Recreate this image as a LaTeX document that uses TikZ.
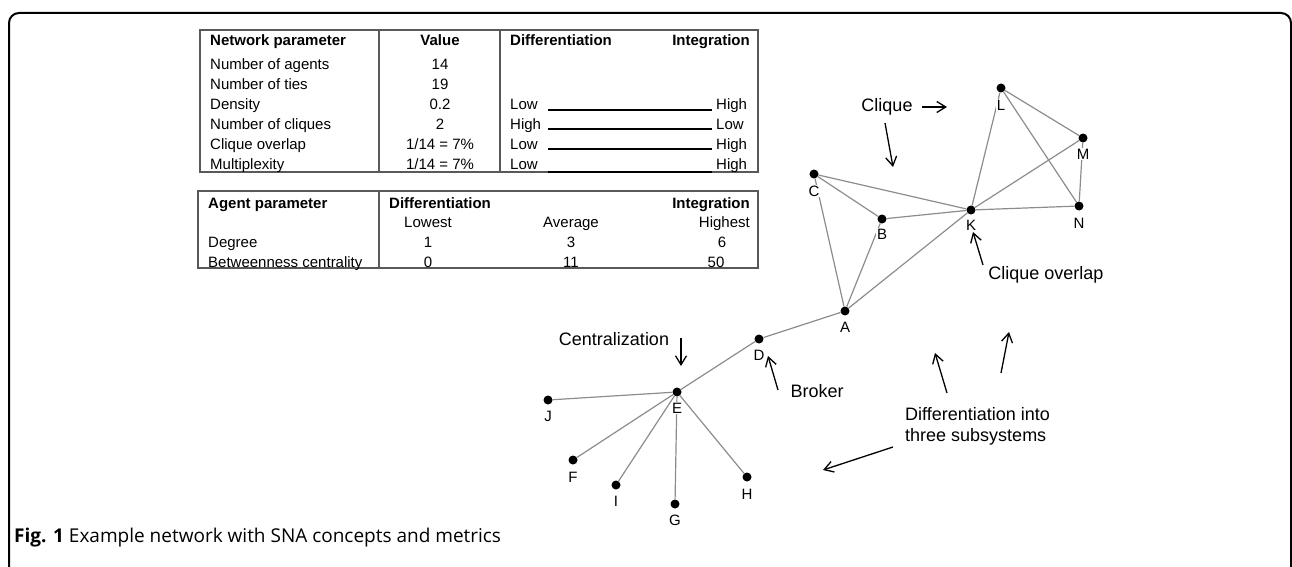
\documentclass[tikz,border=0pt]{standalone}
\usepackage{fontspec}
\setmainfont{Liberation Sans}
\newfontfamily\capfont{Open Sans}
\usetikzlibrary{arrows.meta}
\tikzset{
  tcell/.style={font=\fontsize{15}{18}\selectfont, inner sep=0pt},
  thead/.style={font=\fontsize{15}{18}\selectfont\bfseries, inner sep=0pt},
  annot/.style={font=\fontsize{18}{21}\selectfont, inner sep=0pt},
  vtx/.style={circle, fill=black, inner sep=0pt, minimum size=9pt},
  lbl/.style={font=\fontsize{15}{18}\selectfont, fill=white, inner sep=1pt},
  tie/.style={draw=black!45, line width=1.2pt},
  gridline/.style={draw=black!65, line width=1.2pt},
  pointer/.style={-{Straight Barb[length=9pt,width=11pt]}, line width=1.3pt, black},
  scale line/.style={draw=black, line width=1.2pt},
}
\begin{document}
\begin{tikzpicture}[x=1pt,y=-1pt]
\useasboundingbox (0,0) rectangle (1292,567);
% frame
\draw[line width=2pt, rounded corners=10pt] (9,580) -- (9,13) -- (1291,13) -- (1291,580);

% ---------- table 1 ----------
\draw[gridline] (200,30) rectangle (758,172);
\draw[gridline] (379,30) -- (379,172);
\draw[gridline] (500,30) -- (500,172);
\node[thead, anchor=base west] (n0) at (210,46) {Network parameter};
\node[thead, anchor=base] (v0) at (440,46) {Value};
\node[thead, anchor=base west] (d0) at (510,46) {Differentiation};
\node[thead, anchor=base east] (i0) at (750,46) {Integration};

\node[tcell, anchor=base west] (n1) at (210,70) {Number of agents};
\node[tcell, anchor=base west] (n2) at (210,90) {Number of ties};
\node[tcell, anchor=base west] (n3) at (210,110) {Density};
\node[tcell, anchor=base west] (n4) at (210,129) {Number of cliques};
\node[tcell, anchor=base west] (n5) at (210,149) {Clique overlap};
\node[tcell, anchor=base west] (n6) at (210,169) {Multiplexity};

\node[tcell, anchor=base] (v1) at (440,70) {14};
\node[tcell, anchor=base] (v2) at (440,90) {19};
\node[tcell, anchor=base] (v3) at (440,110) {0.2};
\node[tcell, anchor=base] (v4) at (440,129) {2};
\node[tcell, anchor=base] (v5) at (440,149) {1/14 = 7\%};
\node[tcell, anchor=base] (v6) at (440,169) {1/14 = 7\%};

\node[tcell, anchor=base west] (l3) at (510,110) {Low};
\node[tcell, anchor=base west] (l4) at (510,129) {High};
\node[tcell, anchor=base west] (l5) at (510,149) {Low};
\node[tcell, anchor=base west] (l6) at (510,169) {Low};
\node[tcell, anchor=base west] (r3) at (716,110) {High};
\node[tcell, anchor=base west] (r4) at (716,129) {Low};
\node[tcell, anchor=base west] (r5) at (716,149) {High};
\node[tcell, anchor=base west] (r6) at (716,169) {High};
\coordinate (s3a) at (548,110); \coordinate (s3b) at (712,110);
\coordinate (s4a) at (548,129); \coordinate (s4b) at (712,129);
\coordinate (s5a) at (548,149); \coordinate (s5b) at (712,149);
\coordinate (s6a) at (548,172); \coordinate (s6b) at (712,172);
\draw[scale line] (s3a) -- (s3b);
\draw[scale line] (s4a) -- (s4b);
\draw[scale line] (s5a) -- (s5b);
\draw[scale line, line width=2pt] (s6a) -- (s6b);

% ---------- table 2 ----------
\draw[gridline] (198,191) rectangle (758,268);
\draw[gridline] (379,191) -- (379,268);
\node[thead, anchor=base west] (a0) at (208,208) {Agent parameter};
\node[thead, anchor=base west] (ad0) at (389,208) {Differentiation};
\node[thead, anchor=base east] (ai0) at (750,208) {Integration};
\node[tcell, anchor=base] (lo) at (428,227) {Lowest};
\node[tcell, anchor=base] (av) at (571,227) {Average};
\node[tcell, anchor=base east] (hi) at (750,227) {Highest};
\node[tcell, anchor=base west] (a1) at (208,247) {Degree};
\node[tcell, anchor=base west] (a2) at (208,267) {Betweenness centrality};
\node[tcell, anchor=base] (a1l) at (428,247) {1};
\node[tcell, anchor=base] (a1a) at (571,247) {3};
\node[tcell, anchor=base] (a1h) at (722,247) {6};
\node[tcell, anchor=base] (a2l) at (428,267) {0};
\node[tcell, anchor=base] (a2a) at (571,267) {11};
\node[tcell, anchor=base] (a2h) at (716,267) {50};

% ---------- network ----------
\node[vtx] (A) at (845,311) {};
\node[vtx] (B) at (882,219) {};
\node[vtx] (C) at (814,174) {};
\node[vtx] (D) at (759,339) {};
\node[vtx] (E) at (677,392) {};
\node[vtx] (F) at (573,460) {};
\node[vtx] (G) at (675,504) {};
\node[vtx] (H) at (747,477) {};
\node[vtx] (I) at (616,485) {};
\node[vtx] (J) at (548,400) {};
\node[vtx] (K) at (971,210) {};
\node[vtx] (L) at (1001,88) {};
\node[vtx] (M) at (1083,138) {};
\node[vtx] (N) at (1079,206) {};

\draw[tie] (C) -- (B);
\draw[tie] (C) -- (K);
\draw[tie] (C) -- (A);
\draw[tie] (B) -- (K);
\draw[tie] (B) -- (A);
\draw[tie] (A) -- (K);
\draw[tie] (K) -- (L);
\draw[tie] (K) -- (M);
\draw[tie] (K) -- (N);
\draw[tie] (L) -- (M);
\draw[tie] (L) -- (N);
\draw[tie] (M) -- (N);
\draw[tie] (A) -- (D);
\draw[tie] (D) -- (E);
\draw[tie] (E) -- (J);
\draw[tie] (E) -- (F);
\draw[tie] (E) -- (I);
\draw[tie] (E) -- (G);
\draw[tie] (E) -- (H);

\node[lbl] (lA) at (845,327) {A};
\node[lbl] (lB) at (882,234) {B};
\node[lbl] (lC) at (814,191) {C};
\node[lbl] (lD) at (759,355) {D};
\node[lbl] (lE) at (677,408) {E};
\node[lbl] (lF) at (573,477) {F};
\node[lbl] (lG) at (675,520) {G};
\node[lbl] (lH) at (747,494) {H};
\node[lbl] (lI) at (616,501) {I};
\node[lbl] (lJ) at (548,416) {J};
\node[lbl] (lK) at (971,225) {K};
\node[lbl] (lL) at (1001,105) {L};
\node[lbl] (lM) at (1083,154) {M};
\node[lbl] (lN) at (1079,223) {N};

% ---------- annotations ----------
\node[annot] (tclique) at (887,107) {Clique};
\coordinate (c1a) at (922,107); \coordinate (c1b) at (947,107);
\draw[pointer] (c1a) -- (c1b);
\coordinate (c2a) at (885,123); \coordinate (c2b) at (893,167);
\draw[pointer] (c2a) -- (c2b);

\node[annot] (tover) at (1046,275) {Clique overlap};
\coordinate (o1a) at (983,265); \coordinate (o1b) at (973,232);
\draw[pointer] (o1a) -- (o1b);

\node[annot] (tcent) at (614,339) {Centralization};
\coordinate (z1a) at (681,338); \coordinate (z1b) at (681,366);
\draw[pointer] (z1a) -- (z1b);

\node[annot] (tbrok) at (817,391) {Broker};
\coordinate (b1a) at (778,390); \coordinate (b1b) at (768,356);
\draw[pointer] (b1a) -- (b1b);

\node[annot, anchor=west, align=left] (tdiff) at (905,426) {Differentiation into\\three subsystems};
\coordinate (x1a) at (893,447); \coordinate (x1b) at (823,470);
\draw[pointer] (x1a) -- (x1b);
\coordinate (x2a) at (947,393); \coordinate (x2b) at (935,353);
\draw[pointer] (x2a) -- (x2b);
\coordinate (x3a) at (1001,373); \coordinate (x3b) at (1009,332);
\draw[pointer] (x3a) -- (x3b);

% ---------- caption ----------
\node[anchor=base west, inner sep=0pt, font=\capfont\fontsize{19}{22}\selectfont] (cap) at (14,542) {\textbf{Fig. 1} Example network with SNA concepts and metrics};
\end{tikzpicture}
\end{document}
